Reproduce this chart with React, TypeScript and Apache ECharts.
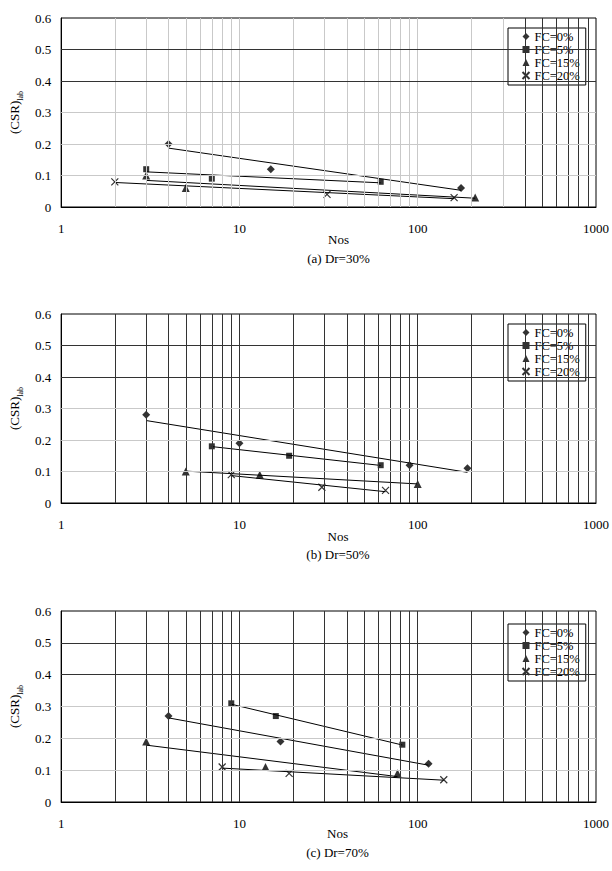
import React, { useEffect, useRef } from 'react';
import * as echarts from 'echarts';

const FONT = "'Liberation Serif', 'Times New Roman', serif";

// Legend / series names and panel captions
const seriesNames = ['FC=0%', 'FC=5%', 'FC=15%', 'FC=20%'];
const captions = ['(a) Dr=30%', '(b) Dr=50%', '(c) Dr=70%'];
const xTitle = 'Nos';

// Axis ranges
const xMin = 1;
const xMax = 1000;
const yMin = 0;
const yMax = 0.6;
const yStep = 0.1;

// Grid line positions (log decades and CSR levels)
const xGridValues = [2, 3, 4, 5, 6, 7, 8, 9, 10, 20, 30, 40, 50, 60, 70, 80, 90, 100, 200, 300, 400, 500, 600, 700, 800, 900];
const yGridValues = [0.1, 0.2, 0.3, 0.4, 0.5];

// (a) Dr=30%
const nosA0 = [4, 15, 175];
const csrA0 = [0.2, 0.12, 0.06];
const nosA5 = [3, 7, 62];
const csrA5 = [0.12, 0.09, 0.08];
const nosA15 = [3, 5, 210];
const csrA15 = [0.1, 0.06, 0.03];
const nosA20 = [2, 31, 160];
const csrA20 = [0.08, 0.04, 0.03];

// (b) Dr=50%
const nosB0 = [3, 10, 90, 190];
const csrB0 = [0.28, 0.19, 0.12, 0.11];
const nosB5 = [7, 19, 62];
const csrB5 = [0.18, 0.15, 0.12];
const nosB15 = [5, 13, 100];
const csrB15 = [0.1, 0.09, 0.06];
const nosB20 = [9, 29, 66];
const csrB20 = [0.09, 0.05, 0.04];

// (c) Dr=70%
const nosC0 = [4, 17, 115];
const csrC0 = [0.27, 0.19, 0.12];
const nosC5 = [9, 16, 82];
const csrC5 = [0.31, 0.27, 0.18];
const nosC15 = [3, 14, 77];
const csrC15 = [0.19, 0.11, 0.09];
const nosC20 = [8, 19, 140];
const csrC20 = [0.11, 0.09, 0.07];

const panels = [
  { nos: [nosA0, nosA5, nosA15, nosA20], csr: [csrA0, csrA5, csrA15, csrA20] },
  { nos: [nosB0, nosB5, nosB15, nosB20], csr: [csrB0, csrB5, csrB15, csrB20] },
  { nos: [nosC0, nosC5, nosC15, nosC20], csr: [csrC0, csrC5, csrC15, csrC20] },
];

// Plot rectangles for the three stacked panels
const grids = [
  { left: 58, top: 18, width: 539, height: 189 },
  { left: 57, top: 314, width: 540, height: 189 },
  { left: 56, top: 611, width: 541, height: 191 },
];
const legendPos = [
  { left: 508, top: 28 },
  { left: 508, top: 324 },
  { left: 508, top: 624 },
];
const titleY = [239, 536, 833];
const captionY = [258, 554, 852];

const DARK = '#333333';
const LIGHT = '#c9c9c9';

const CROSS = 'path://M0,0L10,10M10,0L0,10';
const symbols = ['diamond', 'rect', 'triangle', CROSS];
const symbolSizes = [8, 6, 8, 7];

// Logarithmic trend line: y = a + b*log10(x), drawn between the first and last Nos
function logTrend(xs: number[], ys: number[]): number[][] {
  const lx = xs.map((v) => Math.log10(v));
  const n = lx.length;
  const mx = lx.reduce((s, v) => s + v, 0) / n;
  const my = ys.reduce((s, v) => s + v, 0) / n;
  let sxy = 0;
  let sxx = 0;
  for (let i = 0; i < n; i++) {
    sxy += (lx[i] - mx) * (ys[i] - my);
    sxx += (lx[i] - mx) * (lx[i] - mx);
  }
  const b = sxy / sxx;
  const a = my - b * mx;
  const x1 = Math.min(...xs);
  const x2 = Math.max(...xs);
  return [
    [x1, a + b * Math.log10(x1)],
    [x2, a + b * Math.log10(x2)],
  ];
}

function verticalColor(panel: number, v: number): string {
  if (panel === 0) return v >= 400 ? DARK : LIGHT;
  return DARK;
}

function buildOption() {
  const xAxis: any[] = [];
  const yAxis: any[] = [];
  const legend: any[] = [];
  const series: any[] = [];
  const graphic: any[] = [];

  panels.forEach((panel, p) => {
    xAxis.push({
      type: 'log',
      logBase: 10,
      gridIndex: p,
      min: xMin,
      max: xMax,
      axisLine: { show: true, lineStyle: { color: '#000', width: 1 } },
      axisTick: { show: false },
      splitLine: { show: false },
      minorTick: { show: false },
      axisLabel: {
        color: '#000',
        fontFamily: FONT,
        fontSize: 13,
        margin: 15,
        formatter: (v: number) => String(Math.round(v)),
      },
    });
    yAxis.push({
      type: 'value',
      gridIndex: p,
      min: yMin,
      max: yMax,
      interval: yStep,
      axisLine: { show: true, lineStyle: { color: '#000', width: 1 } },
      axisTick: { show: false },
      splitLine: { show: false },
      axisLabel: {
        color: '#000',
        fontFamily: FONT,
        fontSize: 13,
        margin: 10,
        formatter: (v: number) => (v === 0 ? '0' : v.toFixed(1)),
      },
      name: '{m|(CSR)}{s|lab}',
      nameLocation: 'middle',
      nameRotate: 90,
      nameGap: 36,
      nameTextStyle: {
        color: '#000',
        rich: {
          m: { fontFamily: FONT, fontSize: 13, color: '#000' },
          s: { fontFamily: FONT, fontSize: 8, color: '#000', verticalAlign: 'bottom', padding: [0, 0, -3, 0] },
        },
      },
    });
    legend.push({
      data: seriesNames,
      orient: 'vertical',
      left: legendPos[p].left,
      top: legendPos[p].top,
      padding: [2, 6, 3, 12],
      itemGap: 0,
      itemWidth: 7,
      itemHeight: 7,
      backgroundColor: '#fff',
      borderColor: '#000',
      borderWidth: 1,
      borderRadius: 0,
      selectedMode: false,
      textStyle: { fontFamily: FONT, fontSize: 12.5, color: '#000', lineHeight: 12, height: 12 },
    });

    // Grid lines
    const gridLines: any[] = [];
    xGridValues.forEach((v) => {
      gridLines.push({ xAxis: v, lineStyle: { color: verticalColor(p, v), width: 1, type: 'solid' } });
    });
    yGridValues.forEach((v) => {
      gridLines.push({ yAxis: v, lineStyle: { color: v >= 0.4 ? DARK : LIGHT, width: 1, type: 'solid' } });
    });
    series.push({
      type: 'line',
      name: 'grid' + p,
      xAxisIndex: p,
      yAxisIndex: p,
      data: [[xMin, yMin]],
      showSymbol: false,
      symbol: 'none',
      lineStyle: { opacity: 0 },
      silent: true,
      z: 1,
      markLine: {
        silent: true,
        symbol: ['none', 'none'],
        label: { show: false },
        animation: false,
        data: gridLines,
      },
    });

    // Trend lines
    panel.nos.forEach((xs, k) => {
      series.push({
        type: 'line',
        name: seriesNames[k] + ' trend',
        xAxisIndex: p,
        yAxisIndex: p,
        data: logTrend(xs, panel.csr[k]),
        showSymbol: false,
        symbol: 'none',
        lineStyle: { color: '#000', width: 1 },
        silent: true,
        z: 2,
      });
    });

    // Measured points
    panel.nos.forEach((xs, k) => {
      const isCross = k === 3;
      series.push({
        type: 'scatter',
        name: seriesNames[k],
        xAxisIndex: p,
        yAxisIndex: p,
        data: xs.map((x, i) => [x, panel.csr[k][i]]),
        symbol: symbols[k],
        symbolSize: symbolSizes[k],
        itemStyle: isCross
          ? { color: 'none', borderColor: '#000', borderWidth: 1.2 }
          : { color: '#000', borderWidth: 0 },
        z: 3,
      });
    });

    const g = grids[p];
    const cx = g.left + g.width / 2 + 11;
    graphic.push({
      type: 'text',
      x: cx,
      y: titleY[p],
      style: { text: xTitle, font: `13px ${FONT}`, fill: '#000', textAlign: 'center', textVerticalAlign: 'middle' },
    });
    graphic.push({
      type: 'text',
      x: cx,
      y: captionY[p],
      style: { text: captions[p], font: `13px ${FONT}`, fill: '#000', textAlign: 'center', textVerticalAlign: 'middle' },
    });
  });

  return {
    animation: false,
    backgroundColor: '#fff',
    grid: grids.map((g) => ({ ...g, show: true, borderColor: '#000', borderWidth: 1, backgroundColor: 'transparent' })),
    xAxis,
    yAxis,
    legend,
    series,
    graphic,
  };
}

export default function App() {
  const ref = useRef<HTMLDivElement>(null);
  useEffect(() => {
    if (!ref.current) return;
    const chart = echarts.init(ref.current, undefined, { renderer: 'svg' });
    chart.setOption(buildOption());
    return () => chart.dispose();
  }, []);
  return (
    <div
      ref={ref}
      style={{ position: 'absolute', left: 0, top: 0, width: 612, height: 871, background: '#fff' }}
    />
  );
}
